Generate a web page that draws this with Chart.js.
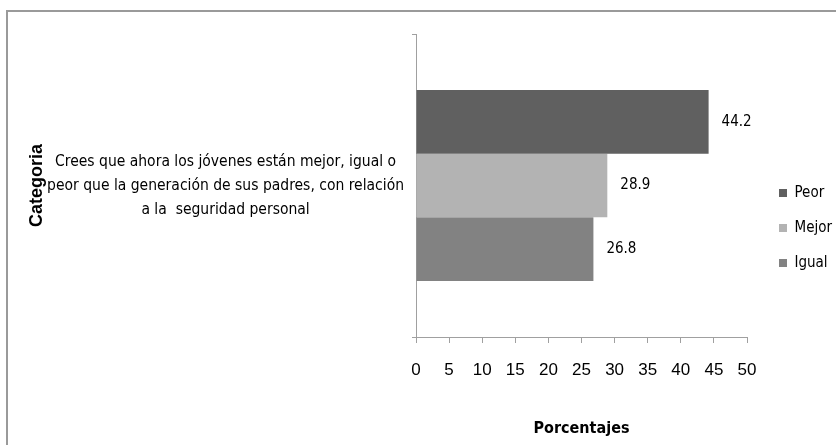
<!DOCTYPE html>
<html>
<head>
<meta charset="utf-8">
<title>Seguridad personal</title>
<script src="https://cdn.jsdelivr.net/npm/chart.js@4.4.1/dist/chart.umd.min.js"></script>
<style>
  html, body { margin: 0; padding: 0; background: #fff; }
  canvas { display: block; }
</style>
</head>
<body>
<canvas id="chart" width="836" height="445"></canvas>
<script>
// Data
const categories = [[
  'Crees que ahora los jóvenes están mejor, igual o',
  'peor que la generación de sus padres, con relación',
  'a la  seguridad personal'
]];
const seriesNames = ['Peor', 'Mejor', 'Igual'];
const peor = [44.2];
const mejor = [28.9];
const igual = [26.8];
const xTicks = [0, 5, 10, 15, 20, 25, 30, 35, 40, 45, 50];

const colors = ['#606060', '#b3b3b3', '#828282'];
const narrow = '"DejaVu Sans Condensed", "DejaVu Sans", sans-serif';
const arial = '"Liberation Sans", Arial, sans-serif';
const axisGray = '#a0a0a0';

// gray frame around the whole figure
const frame = {
  id: 'frame',
  beforeDraw(chart) {
    const ctx = chart.ctx;
    ctx.save();
    ctx.strokeStyle = '#9a9a9a';
    ctx.lineWidth = 2;
    ctx.strokeRect(7, 11, 900, 500);
    ctx.restore();
  }
};

// value next to each bar end
const valueLabels = {
  id: 'valueLabels',
  afterDatasetsDraw(chart) {
    const ctx = chart.ctx;
    ctx.save();
    ctx.font = '15px ' + narrow;
    ctx.fillStyle = '#000';
    ctx.textBaseline = 'middle';
    ctx.textAlign = 'left';
    chart.data.datasets.forEach((ds, i) => {
      chart.getDatasetMeta(i).data.forEach((bar, j) => {
        ctx.fillText(ds.data[j].toFixed(1), bar.x + 13, bar.y);
      });
    });
    ctx.restore();
  }
};

const seriesData = [peor, mejor, igual];

new Chart(document.getElementById('chart'), {
  type: 'bar',
  data: {
    labels: categories,
    datasets: seriesNames.map((name, i) => ({
      label: name,
      data: seriesData[i],
      backgroundColor: colors[i],
      borderWidth: 0,
      xAxisID: 'x',
      yAxisID: 'y',
      categoryPercentage: 0.63,
      barPercentage: 1
    }))
  },
  options: {
    indexAxis: 'y',
    responsive: false,
    animation: false,
    layout: { padding: { left: 16, top: 11, right: 0, bottom: 0 } },
    scales: {
      y: {
        position: 'left',
        afterFit: s => { s.width = 400; s.paddingTop = 0; s.paddingBottom = 0; },
        grid: { display: true, drawOnChartArea: false, offset: true, tickLength: 4, color: axisGray },
        border: { display: true, color: axisGray, width: 1 },
        ticks: {
          crossAlign: 'center',
          padding: 8,
          color: '#000',
          font: { family: narrow, size: 15.5, lineHeight: 1.55 }
        },
        title: {
          display: true,
          text: 'Categoria',
          color: '#000',
          padding: { top: 10, bottom: 0 },
          font: { family: arial, size: 18, weight: 'bold' }
        }
      },
      x: {
        position: 'bottom',
        min: 0,
        max: 50,
        afterFit: s => { s.height = 108; },
        afterBuildTicks: s => { s.ticks = xTicks.map(v => ({ value: v })); },
        grid: { display: true, drawOnChartArea: false, tickLength: 6, color: axisGray },
        border: { display: true, color: axisGray, width: 1 },
        ticks: {
          padding: 17,
          color: '#000',
          font: { family: arial, size: 17 }
        },
        title: {
          display: true,
          text: 'Porcentajes',
          color: '#000',
          padding: { top: 0, bottom: 7 },
          font: { family: narrow, size: 16, weight: 'bold' }
        }
      },
      // empty spacers that give the plot its margins
      ySpace: {
        type: 'linear',
        position: 'right',
        afterFit: s => { s.width = 12; },
        grid: { display: false },
        border: { display: false },
        ticks: { display: false }
      },
      xSpace: {
        type: 'linear',
        position: 'top',
        afterFit: s => { s.height = 23; },
        grid: { display: false },
        border: { display: false },
        ticks: { display: false }
      }
    },
    plugins: {
      legend: {
        position: 'right',
        align: 'center',
        maxWidth: 77,
        labels: {
          boxWidth: 8,
          boxHeight: 8,
          padding: 20,
          color: '#000',
          font: { family: narrow, size: 15 }
        }
      },
      tooltip: { enabled: false }
    }
  },
  plugins: [frame, valueLabels]
});
</script>
</body>
</html>
